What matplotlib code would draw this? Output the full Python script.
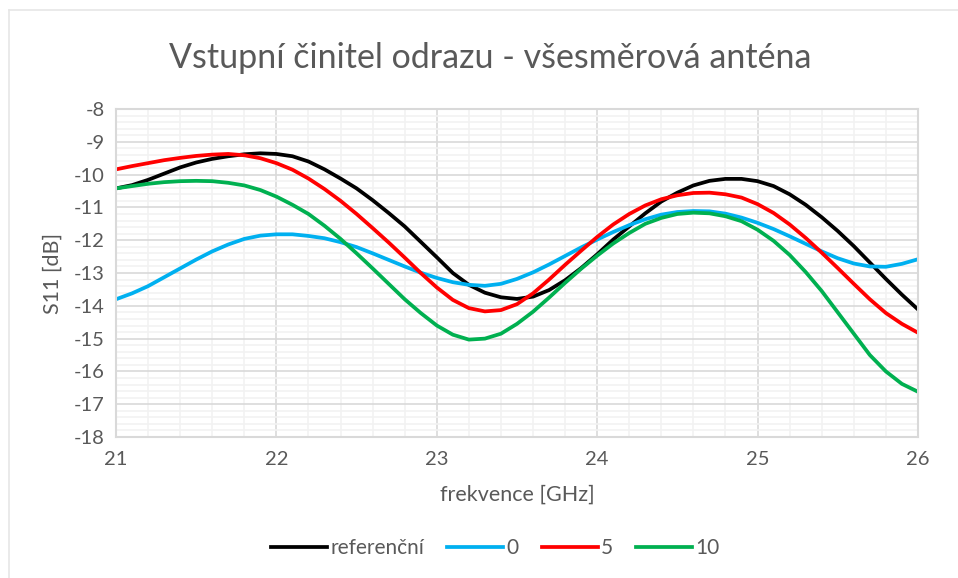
import matplotlib
matplotlib.use('Agg')
import matplotlib.pyplot as plt
from matplotlib.lines import Line2D
from matplotlib.ticker import MultipleLocator

# frequency axis, 0.1 GHz step
freq = [21.0 + 0.1 * i for i in range(51)]

s11_ref = [-10.42, -10.32, -10.16, -9.97, -9.78, -9.63, -9.52, -9.44, -9.38, -9.35,
           -9.37, -9.44, -9.60, -9.84, -10.12, -10.42, -10.78, -11.17, -11.58, -12.05,
           -12.52, -13.00, -13.36, -13.60, -13.74, -13.79, -13.72, -13.52, -13.22, -12.85,
           -12.43, -11.98, -11.58, -11.18, -10.82, -10.55, -10.33, -10.19, -10.13, -10.13,
           -10.20, -10.35, -10.60, -10.92, -11.30, -11.72, -12.18, -12.68, -13.18, -13.66,
           -14.11]
s11_0 = [-13.80, -13.62, -13.40, -13.13, -12.86, -12.59, -12.34, -12.13, -11.96, -11.86,
         -11.82, -11.82, -11.87, -11.94, -12.06, -12.21, -12.40, -12.60, -12.80, -12.99,
         -13.15, -13.28, -13.36, -13.39, -13.33, -13.18, -12.98, -12.74, -12.48, -12.22,
         -11.98, -11.75, -11.54, -11.36, -11.22, -11.14, -11.11, -11.12, -11.19, -11.31,
         -11.47, -11.66, -11.88, -12.11, -12.34, -12.55, -12.71, -12.80, -12.81, -12.72,
         -12.58]
s11_5 = [-9.84, -9.74, -9.65, -9.56, -9.49, -9.43, -9.39, -9.37, -9.41, -9.50,
         -9.65, -9.85, -10.12, -10.44, -10.80, -11.20, -11.63, -12.07, -12.53, -13.00,
         -13.44, -13.82, -14.07, -14.17, -14.13, -13.95, -13.62, -13.20, -12.75, -12.32,
         -11.90, -11.52, -11.20, -10.94, -10.75, -10.63, -10.56, -10.55, -10.60, -10.70,
         -10.90, -11.17, -11.52, -11.93, -12.38, -12.85, -13.33, -13.80, -14.22, -14.55,
         -14.82]
s11_10 = [-10.42, -10.35, -10.28, -10.23, -10.20, -10.19, -10.20, -10.25, -10.33, -10.47,
          -10.67, -10.92, -11.20, -11.56, -11.96, -12.40, -12.86, -13.33, -13.80, -14.22,
          -14.60, -14.88, -15.03, -15.00, -14.85, -14.55, -14.18, -13.75, -13.30, -12.87,
          -12.47, -12.10, -11.78, -11.50, -11.32, -11.20, -11.16, -11.18, -11.27, -11.42,
          -11.68, -12.02, -12.45, -12.97, -13.55, -14.20, -14.85, -15.50, -16.00, -16.38,
          -16.62]

labels = ['referenční', '0', '5', '10']
colors = ['#000000', '#00B0F0', '#FF0000', '#00B050']
series = [s11_ref, s11_0, s11_5, s11_10]

plt.rcParams['font.family'] = ['Lato', 'DejaVu Sans']
plt.rcParams['axes.unicode_minus'] = False
text_color = '#595959'

fig = plt.figure(figsize=(9.58, 5.78), dpi=100)
ax = fig.add_axes([0.1211, 0.2439, 0.8371, 0.5675])

for vals, col, lab in zip(series, colors, labels):
    ax.plot(freq, vals, color=col, lw=2.7, label=lab,
            solid_capstyle='round', solid_joinstyle='round')

ax.set_xlim(21, 26)
ax.set_ylim(-18, -8)
ax.xaxis.set_major_locator(MultipleLocator(1))
ax.xaxis.set_minor_locator(MultipleLocator(0.2))
ax.yaxis.set_major_locator(MultipleLocator(1))
ax.yaxis.set_minor_locator(MultipleLocator(0.2))
ax.grid(which='minor', color='#F2F2F2', lw=1.2)
ax.grid(which='major', color='#D9D9D9', lw=1.2)
ax.set_axisbelow(True)
ax.tick_params(which='both', length=0, colors=text_color, labelsize=14.5)
ax.tick_params(axis='x', pad=10)
ax.tick_params(axis='y', pad=8)
for s in ax.spines.values():
    s.set_color('#D9D9D9')
    s.set_linewidth(1.5)

ax.set_xlabel('frekvence [GHz]', fontsize=15.5, color=text_color, labelpad=12)
ax.set_ylabel('S11 [dB]', fontsize=15.5, color=text_color, labelpad=8)
fig.text(0.512, 0.9, 'Vstupní činitel odrazu - všesměrová anténa',
         ha='center', va='center', fontsize=24.5, color=text_color)

handles = [Line2D([], [], color=c, lw=2.7) for c in colors]
fig.legend(handles, labels, loc='center', bbox_to_anchor=(0.517, 0.052), ncol=4,
           frameon=False, fontsize=15, labelcolor=text_color, handlelength=2.7,
           handletextpad=0.15, columnspacing=1.1)

# light chart border, top and left
fig.add_artist(Line2D([0.0094, 1.0], [0.983, 0.983], color='#E6E6E6', lw=1.2))
fig.add_artist(Line2D([0.0094, 0.0094], [0.0, 0.983], color='#E6E6E6', lw=1.2))

fig.savefig('out.png', dpi=100)
